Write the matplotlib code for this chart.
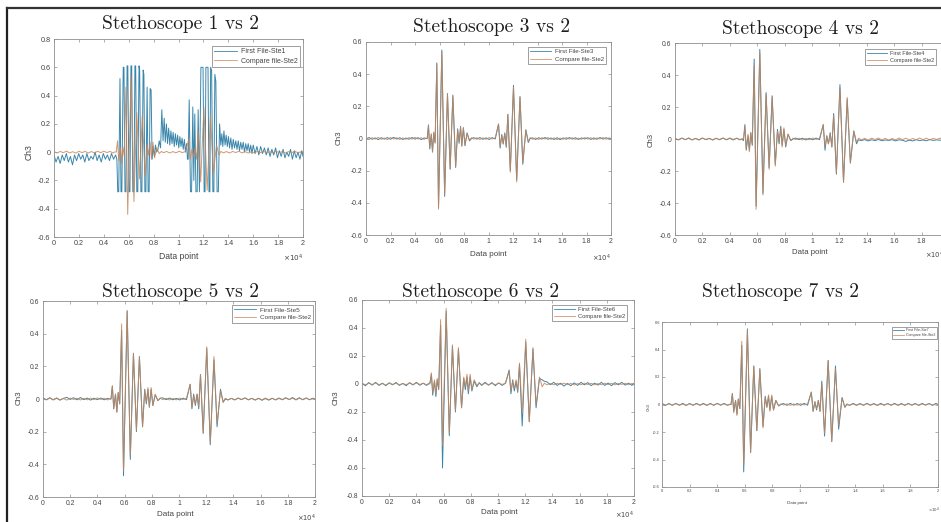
import matplotlib
matplotlib.use('Agg')
import matplotlib.pyplot as plt
from matplotlib.lines import Line2D

# ---------------- data ----------------
# common sample grid for the near-identical recordings (data points)
grid_x = [0, 250, 500, 750, 1000, 1250, 1500, 1750, 2000, 2250, 2500, 2750, 3000, 3250, 3500, 3750, 4000, 4250, 4500, 4750, 4880,
          5000, 5100, 5200, 5330, 5430, 5530, 5640, 5780, 5920, 6190, 6420, 6650, 6870, 7090, 7320, 7480, 7600, 7720, 7820, 7950, 8080, 8250, 8450, 8620,
          8800, 9050, 9300, 9550, 9800, 10050, 10300, 10550,
          10820, 10950, 11080, 11200, 11330, 11450, 11580, 11780, 12040, 12300, 12570, 12800, 13050, 13250, 13400,
          13600, 13850, 14100, 14350, 14600, 14850, 15100, 15350, 15600, 15850, 16100, 16350, 16600, 16850, 17100, 17350, 17600, 17850, 18100, 18350, 18600, 18850, 19100, 19350, 19600, 19850, 20000]

ste2_y = [0.004, -0.006, 0.005, -0.004, 0.007, -0.005, 0.003, -0.007, 0.006, -0.003, 0.005, -0.006, 0.004, -0.005, 0.006, -0.004, 0.007, -0.003, 0.005, -0.006, 0.002,
          0.0, 0.08, -0.06, 0.03, -0.08, 0.04, -0.03, 0.46, -0.44, 0.54, -0.35, 0.28, -0.19, 0.26, -0.17, 0.05, -0.02, 0.07, -0.05, 0.07, -0.04, 0.03, -0.01, 0.005,
          -0.004, 0.005, -0.006, 0.004, -0.005, 0.006, -0.003, 0.004,
          0.09, -0.05, 0.02, -0.03, 0.03, -0.05, 0.15, -0.21, 0.32, -0.27, 0.26, -0.15, 0.05, -0.02, 0.005,
          -0.005, 0.004, -0.006, 0.005, -0.003, 0.006, -0.005, 0.004, -0.007, 0.003, -0.005, 0.006, -0.004, 0.005, -0.006, 0.003, -0.005, 0.006, -0.004, 0.005, -0.006, 0.004, -0.003, 0.006, -0.005, 0.004, 0.0]

ste3_y = [-0.003, 0.006, -0.005, 0.004, -0.007, 0.005, -0.004, 0.006, -0.005, 0.007, -0.004, 0.005, -0.006, 0.003, -0.005, 0.006, -0.004, 0.005, -0.007, 0.004, 0.0,
          0.0, 0.085, -0.065, 0.025, -0.085, 0.035, -0.025, 0.47, -0.43, 0.55, -0.36, 0.28, -0.19, 0.27, -0.18, 0.06, -0.03, 0.075, -0.045, 0.065, -0.045, 0.035, -0.015, 0.0,
          0.005, -0.004, 0.006, -0.005, 0.004, -0.006, 0.005, -0.003,
          0.09, -0.06, 0.025, -0.035, 0.035, -0.055, 0.15, -0.2, 0.33, -0.26, 0.26, -0.16, 0.055, -0.025, 0.0,
          0.004, -0.006, 0.005, -0.004, 0.006, -0.005, 0.003, -0.006, 0.005, -0.007, 0.004, -0.005, 0.006, -0.004, 0.005, -0.006, 0.004, -0.003, 0.005, -0.006, 0.004, -0.005, 0.006, -0.004, 0.005, -0.003, 0.0]

ste4_y = [0.003, -0.005, 0.006, -0.004, 0.005, -0.006, 0.004, -0.005, 0.006, -0.004, 0.003, -0.006, 0.005, -0.004, 0.006, -0.005, 0.004, -0.006, 0.005, -0.004, 0.0,
          -0.01, 0.09, -0.07, 0.02, -0.07, 0.04, -0.04, 0.50, -0.42, 0.56, -0.34, 0.29, -0.18, 0.27, -0.16, 0.06, -0.03, 0.08, -0.04, 0.06, -0.05, 0.03, -0.01, 0.0,
          0.006, -0.004, 0.005, -0.006, 0.004, -0.005, 0.006, -0.004,
          0.09, -0.07, 0.02, -0.03, 0.04, -0.05, 0.16, -0.22, 0.34, -0.27, 0.25, -0.15, 0.05, -0.03, -0.005,
          -0.01, -0.004, -0.012, -0.005, -0.01, -0.003, -0.011, -0.006, -0.009, -0.004, -0.012, -0.005, -0.008, -0.015, -0.007, -0.012, -0.004, -0.01, -0.006, -0.011, -0.003, -0.009, -0.005, -0.008, -0.002, -0.006, 0.0]

ste5_y = [0.006, -0.004, 0.008, -0.006, 0.005, -0.007, 0.004, 0.01, -0.003, 0.008, -0.005, 0.009, -0.004, 0.006, -0.007, 0.005, -0.004, 0.006, -0.005, 0.004, 0.0,
          0.0, 0.08, -0.06, 0.03, -0.08, 0.04, -0.03, 0.42, -0.47, 0.54, -0.37, 0.28, -0.2, 0.26, -0.17, 0.06, -0.03, 0.06, -0.05, 0.06, -0.04, 0.025, -0.01, 0.005,
          0.007, -0.004, 0.006, -0.005, 0.004, -0.006, 0.005, -0.004,
          0.09, -0.06, 0.03, -0.04, 0.03, -0.06, 0.15, -0.21, 0.31, -0.28, 0.24, -0.17, 0.06, -0.02, 0.0,
          -0.006, 0.004, -0.005, 0.006, -0.004, 0.007, -0.005, 0.004, -0.006, 0.005, -0.008, 0.003, -0.007, 0.004, -0.005, 0.006, -0.004, 0.008, -0.003, 0.009, -0.004, 0.008, -0.005, 0.006, -0.004, 0.005, 0.0]

ste6_y = [0.005, -0.012, 0.01, -0.008, 0.012, -0.01, 0.006, -0.012, 0.009, -0.006, 0.011, -0.01, 0.004, -0.012, 0.01, -0.007, 0.012, -0.009, 0.006, -0.01, 0.0,
          0.01, 0.07, -0.08, 0.02, -0.09, 0.03, -0.04, 0.42, -0.60, 0.52, -0.37, 0.27, -0.20, 0.25, -0.17, 0.04, -0.04, 0.05, -0.07, 0.05, -0.05, 0.02, -0.02, 0.01,
          -0.01, 0.012, -0.008, 0.01, -0.012, 0.008, -0.01, 0.006,
          0.10, -0.07, 0.03, -0.05, 0.02, -0.06, 0.14, -0.30, 0.30, -0.27, 0.25, -0.17, 0.04, 0.03, 0.02,
          0.015, -0.005, 0.012, -0.01, 0.006, -0.015, 0.004, -0.012, 0.008, -0.01, 0.012, -0.006, 0.01, -0.012, 0.006, -0.008, 0.012, -0.01, 0.007, -0.012, 0.01, -0.006, 0.012, -0.008, 0.006, -0.01, 0.005]

ste7_y = [0.008, -0.006, 0.007, -0.006, 0.008, -0.005, 0.008, -0.006, 0.007, -0.006, 0.008, -0.005, 0.008, -0.006, 0.007, -0.006, 0.008, -0.005, 0.008, -0.006, 0.0,
          0.0, 0.08, -0.05, 0.03, -0.07, 0.04, -0.03, 0.43, -0.49, 0.55, -0.35, 0.28, -0.19, 0.26, -0.16, 0.06, -0.02, 0.06, -0.04, 0.06, -0.04, 0.03, -0.01, 0.0,
          0.007, -0.006, 0.008, -0.005, 0.007, -0.006, 0.008, -0.005,
          0.09, -0.05, 0.02, -0.04, 0.03, -0.05, 0.17, -0.23, 0.32, -0.27, 0.28, -0.18, 0.05, -0.02, 0.0,
          -0.006, 0.008, -0.005, 0.007, -0.006, 0.008, -0.005, 0.007, -0.006, 0.008, -0.005, 0.007, -0.006, 0.008, -0.005, 0.007, -0.006, 0.008, -0.005, 0.007, -0.006, 0.008, -0.005, 0.007, -0.006, 0.008, 0.0]

# stethoscope 1: clipped, distorted recording, own sample positions
ste1_base_x = [0, 165, 330, 495, 660, 825, 990, 1155, 1320, 1485, 1650, 1815, 1980, 2145, 2310, 2475, 2640, 2805, 2970, 3135,
               3300, 3465, 3630, 3795, 3960, 4125, 4290, 4455, 4620, 4785, 4950]
ste1_base_y = [-0.02, -0.07, -0.03, -0.08, -0.02, -0.06, -0.01, -0.07, -0.03, -0.09, -0.02, -0.06, -0.01, -0.05, -0.02, -0.07, -0.01, -0.06, -0.03, -0.05,
               0.0, -0.06, -0.02, -0.07, -0.01, -0.05, -0.02, -0.06, -0.01, -0.05, -0.02]
ste1_s1_x = [5050, 5120, 5200, 5300, 5380, 5450, 5560, 5620, 5700, 5780, 5870, 5930, 6020, 6100, 6180, 6240, 6330, 6420, 6500, 6560,
             6650, 6730, 6830, 6880, 6980, 7060, 7160, 7220, 7300, 7380, 7480, 7560, 7640, 7720, 7800, 7880, 7960, 8060, 8150, 8250]
ste1_s1_y = [-0.05, -0.28, -0.28, 0.52, -0.28, -0.28, 0.60, 0.60, -0.28, -0.28, 0.61, 0.61, -0.28, -0.28, 0.61, 0.61, -0.28, -0.28, 0.61, 0.61,
             -0.28, -0.28, 0.61, 0.58, -0.28, -0.28, 0.58, 0.55, -0.28, -0.28, 0.46, -0.28, -0.28, 0.45, 0.44, -0.05, 0.04, -0.03, 0.05, 0.0]
ste1_tail1_x = [8350, 8450, 8560, 8660, 8760, 8850, 8940, 9030, 9120, 9210, 9300, 9390, 9480, 9570, 9660, 9750, 9840, 9930,
                10020, 10110, 10200, 10290, 10380, 10470, 10560, 10650, 10720]
ste1_tail1_y = [0.02, 0.08, 0.03, 0.30, 0.08, 0.24, 0.07, 0.20, 0.06, 0.17, 0.05, 0.15, 0.06, 0.14, 0.04, 0.13, 0.05, 0.12,
                0.03, 0.11, 0.04, 0.10, 0.02, 0.09, 0.0, 0.06, -0.05]
ste1_s2_x = [10780, 10860, 10960, 11050, 11150, 11230, 11310, 11400, 11500, 11580, 11680, 11800, 11970, 12060, 12130,
             12200, 12370, 12450, 12520, 12580, 12660, 12760, 12840, 12920, 13000, 13100, 13200, 13300, 13400, 13480]
ste1_s2_y = [-0.05, 0.37, -0.28, -0.28, 0.32, -0.20, 0.27, -0.28, -0.28, 0.30, -0.28, 0.60, 0.60, -0.28, -0.28,
             0.60, 0.60, -0.28, -0.28, 0.60, 0.58, -0.28, -0.28, 0.55, 0.50, -0.28, -0.28, 0.20, 0.05, 0.13]
ste1_tail2_x = [13560, 13650, 13740, 13830, 13920, 14010, 14100,
                14200, 14300, 14400, 14500, 14600, 14700, 14800, 14900, 15000, 15100, 15200, 15300, 15400, 15500, 15600, 15700, 15800, 15900, 16000,
                16150, 16300, 16450, 16600, 16750, 16900, 17050, 17200, 17350, 17500, 17650, 17800, 17950, 18100, 18250, 18400, 18550, 18700,
                18850, 19000, 19150, 19300, 19450, 19600, 19750, 19900, 20000]
ste1_tail2_y = [0.04, 0.15, 0.05, 0.12, 0.04, 0.11, 0.03,
                0.10, 0.02, 0.09, 0.03, 0.08, 0.02, 0.08, 0.01, 0.07, 0.02, 0.07, 0.0, 0.06, 0.01, 0.06, 0.0, 0.05, -0.01, 0.05,
                -0.01, 0.04, -0.02, 0.04, -0.01, 0.03, -0.02, 0.03, -0.03, 0.02, -0.02, 0.03, -0.04, 0.01, -0.03, 0.02, -0.04, 0.0,
                -0.03, 0.02, -0.05, 0.01, -0.04, 0.0, -0.05, 0.01, -0.03]

ste1_x = ste1_base_x + ste1_s1_x + ste1_tail1_x + ste1_s2_x + ste1_tail2_x
ste1_y = ste1_base_y + ste1_s1_y + ste1_tail1_y + ste1_s2_y + ste1_tail2_y

titles = ['Stethoscope 1 vs 2', 'Stethoscope 3 vs 2', 'Stethoscope 4 vs 2',
          'Stethoscope 5 vs 2', 'Stethoscope 6 vs 2', 'Stethoscope 7 vs 2']
first_labels = ['First File-Ste1', 'First File-Ste3', 'First File-Ste4',
                'First File-Ste5', 'First File-Ste6', 'First File-Ste7']
compare_label = 'Compare file-Ste2'
xtick_vals = [0, 2000, 4000, 6000, 8000, 10000, 12000, 14000, 16000, 18000, 20000]
xtick_labels = ['0', '0.2', '0.4', '0.6', '0.8', '1', '1.2', '1.4', '1.6', '1.8', '2']
ytick_vals = [-0.8, -0.6, -0.4, -0.2, 0.0, 0.2, 0.4, 0.6, 0.8]
ytick_labels = ['-0.8', '-0.6', '-0.4', '-0.2', '0', '0.2', '0.4', '0.6', '0.8']
ylims = [(-0.6, 0.8), (-0.6, 0.6), (-0.6, 0.6), (-0.6, 0.6), (-0.8, 0.6), (-0.6, 0.6)]

# ---------------- layout ----------------
W, H = 941, 522
fig = plt.figure(figsize=(W / 100, H / 100), dpi=100)
fig.patch.set_facecolor('white')

BLUE = '#3a86ab'
ORANGE = '#c98558'
AX_COL = '#8f8f8f'
TXT_COL = '#444444'

layout = [
    dict(box=(54, 303, 39, 237), title=(180, 29), ylab=(29, 152), xlab=(179, 257), x10=(303, 258),
         leg=(0.988, 0.965), tfs=5.2, lfs=5.0, hl=3.2, labfs=6.2),
    dict(box=(366, 611, 42, 235), title=(492, 32), ylab=(339, 138), xlab=(488, 254), x10=(611, 258),
         leg=(0.98, 0.974), tfs=4.9, lfs=4.4, hl=3.4, labfs=5.8),
    dict(box=(675, 949, 43, 235), title=(800, 34), ylab=(651, 140), xlab=(810, 252), x10=(944, 255),
         leg=(0.953, 0.969), tfs=4.9, lfs=4.0, hl=3.6, labfs=5.6),
    dict(box=(43, 315, 301, 497), title=(180, 297), ylab=(19, 398), xlab=(175, 514), x10=(316, 518),
         leg=(0.993, 0.98), tfs=4.9, lfs=4.6, hl=3.4, labfs=5.8),
    dict(box=(362, 634, 300, 496), title=(481, 297), ylab=(336, 398), xlab=(499, 512), x10=(634, 515),
         leg=(0.976, 0.974), tfs=4.9, lfs=4.2, hl=3.6, labfs=5.8),
    dict(box=(662, 938, 322, 487), title=(780, 297), ylab=(649, 407), xlab=(797, 503), x10=(940, 510),
         leg=(0.996, 0.97), tfs=2.8, lfs=2.6, hl=3.0, labfs=3.2),
]

first_series = [(ste1_x, ste1_y), (grid_x, ste3_y), (grid_x, ste4_y),
                (grid_x, ste5_y), (grid_x, ste6_y), (grid_x, ste7_y)]


def fx(px):
    return px / W


def fy(py):
    return 1 - py / H


for i, cfg in enumerate(layout):
    l, r, t, b = cfg['box']
    ax = fig.add_axes([fx(l), fy(b), (r - l) / W, (b - t) / H])
    bx, by = first_series[i]
    ax.plot(bx, by, color=BLUE, lw=0.7, label=first_labels[i])
    ax.plot(grid_x, ste2_y, color=ORANGE, lw=0.7, alpha=0.85, label=compare_label)
    ax.set_xlim(0, 20000)
    lo, hi = ylims[i]
    ax.set_ylim(lo, hi)
    ax.set_xticks(xtick_vals)
    ax.set_xticklabels(xtick_labels)
    yv = [v for v in ytick_vals if lo - 1e-9 <= v <= hi + 1e-9]
    yl = [ytick_labels[k] for k, v in enumerate(ytick_vals) if lo - 1e-9 <= v <= hi + 1e-9]
    ax.set_yticks(yv)
    ax.set_yticklabels(yl)
    ax.tick_params(direction='in', top=True, right=True, length=2.2, width=0.5,
                   colors=AX_COL, labelcolor=TXT_COL, labelsize=cfg['tfs'],
                   pad=2.5 if i < 5 else 1.5)
    for lab in ax.get_xticklabels() + ax.get_yticklabels():
        lab.set_family('Liberation Sans')
    for sp in ax.spines.values():
        sp.set_color(AX_COL)
        sp.set_linewidth(0.6)
    leg = ax.legend(loc='upper right', bbox_to_anchor=cfg['leg'], borderaxespad=0,
                    handlelength=cfg['hl'], handletextpad=0.6,
                    labelspacing=0.35, borderpad=0.35, fancybox=False, framealpha=1,
                    edgecolor=AX_COL, prop={'family': 'Liberation Sans', 'size': cfg['lfs']})
    leg.get_frame().set_linewidth(0.6)
    for txt in leg.get_texts():
        txt.set_color(TXT_COL)
    for hline in leg.get_lines():
        hline.set_linewidth(0.6)

    cx, cy = cfg['title']
    fig.text(fx(cx), fy(cy), titles[i], ha='center', va='baseline',
             family='cmr10', fontsize=14, color='#1e1e1e')
    yx, yy = cfg['ylab']
    fig.text(fx(yx), fy(yy), 'Ch3', rotation=90, ha='center', va='center',
             family='Liberation Sans', fontsize=cfg['labfs'], color=TXT_COL)
    lx, ly = cfg['xlab']
    fig.text(fx(lx), fy(ly), 'Data point', ha='center', va='center',
             family='Liberation Sans', fontsize=cfg['labfs'], color=TXT_COL)
    tx, ty = cfg['x10']
    fig.text(fx(tx), fy(ty), r'$\times 10^{4}$', ha='right', va='center',
             fontsize=cfg['tfs'], color=TXT_COL)

# outer frame of the composite picture
fig.add_artist(Line2D([fx(7), fx(7)], [0, fy(8)], transform=fig.transFigure, color='#222222', lw=1.6))
fig.add_artist(Line2D([fx(7), 1], [fy(8), fy(8)], transform=fig.transFigure, color='#333333', lw=1.6))

fig.savefig('out.png', dpi=100)
